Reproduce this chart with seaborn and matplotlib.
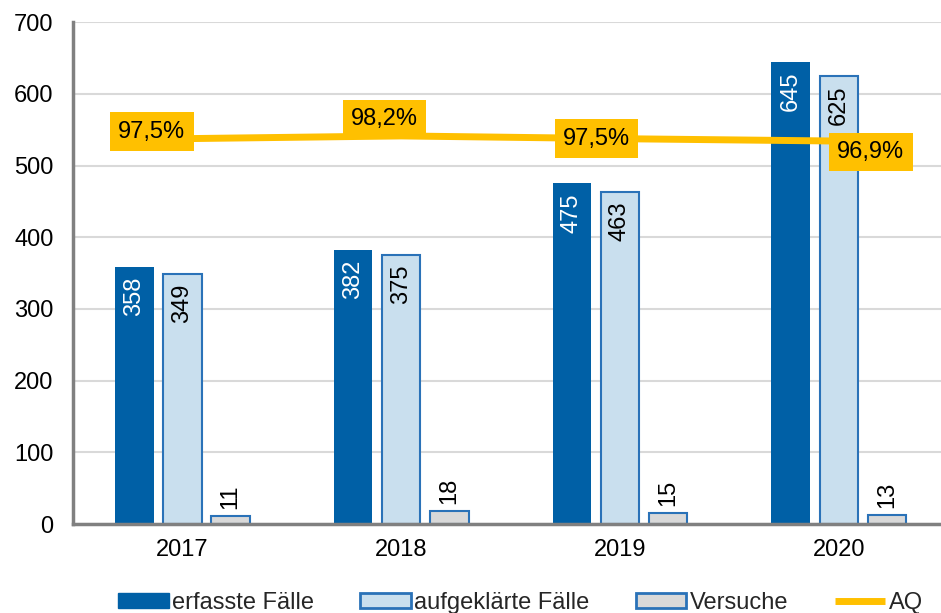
import matplotlib
matplotlib.use("Agg")
import matplotlib.pyplot as plt
import numpy as np
import pandas as pd
import seaborn as sns
from matplotlib.patches import Patch
from matplotlib.lines import Line2D

years = ["2017", "2018", "2019", "2020"]
erfasste = [358, 382, 475, 645]
aufgeklaerte = [349, 375, 463, 625]
versuche = [11, 18, 15, 13]
aq = [97.5, 98.2, 97.5, 96.9]
series_names = ["erfasste Fälle", "aufgeklärte Fälle", "Versuche"]

# label offsets for the AQ boxes (points)
aq_offsets = [(-22, 5), (-12, 12), (-17, 0), (23, -8)]

DARK = "#0060A6"
LIGHT = "#C9DFEE"
GREY = "#D9D9D9"
EDGE = "#2A72B8"
YELLOW = "#FFC000"
FS = 17

sns.set_theme(style="white")
plt.rcParams["font.family"] = ["Liberation Sans", "DejaVu Sans"]

df = pd.DataFrame({
    "Jahr": years * 3,
    "Serie": np.repeat(series_names, len(years)),
    "Wert": erfasste + aufgeklaerte + versuche,
})

fig = plt.figure(figsize=(9.41, 6.13), dpi=100)
ax = fig.add_axes([0.0776, 0.145, 0.93, 0.819])

sns.barplot(data=df, x="Jahr", y="Wert", hue="Serie", hue_order=series_names,
            palette=[DARK, LIGHT, GREY], width=0.66, gap=0.2, saturation=1,
            legend=False, ax=ax, zorder=2)

styles = [(DARK, DARK, 0), (LIGHT, EDGE, 1.5), (GREY, EDGE, 1.5)]
for cont, (fc, ec, lw) in zip(ax.containers, styles):
    for p in cont.patches:
        p.set_facecolor(fc)
        p.set_edgecolor(ec)
        p.set_linewidth(lw)

# value labels
for i, cont in enumerate(ax.containers):
    for p in cont.patches:
        x = p.get_x() + p.get_width() / 2
        h = p.get_height()
        if i < 2:
            ax.annotate(f"{h:.0f}", (x, h), xytext=(0, -7), textcoords="offset points",
                        rotation=90, ha="center", va="top", fontsize=FS,
                        color="white" if i == 0 else "black")
        else:
            ax.annotate(f"{h:.0f}", (x, h), xytext=(0, 5), textcoords="offset points",
                        rotation=90, ha="center", va="bottom", fontsize=FS, color="black")

ax.set_xlim(-0.5, 3.5)
ax.set_ylim(0, 700)
ax.set_yticks(range(0, 701, 100))
ax.set_xlabel("")
ax.set_ylabel("")
ax.yaxis.grid(True, color="#D9D9D9", lw=1.5, zorder=0)
ax.set_axisbelow(True)
ax.tick_params(axis="y", length=0, pad=14, labelsize=FS, labelcolor="black")
ax.tick_params(axis="x", length=0, pad=11, labelsize=FS, labelcolor="black")
for s in ["top", "right"]:
    ax.spines[s].set_visible(False)
for s in ["left", "bottom"]:
    ax.spines[s].set_color("#808080")
    ax.spines[s].set_linewidth(2.5)

# AQ line on hidden secondary axis
ax2 = ax.twinx()
sns.lineplot(x=np.arange(len(years)), y=aq, ax=ax2, color=YELLOW, lw=5, zorder=3)
ax2.set_ylim(0, 127)
ax2.set_axis_off()
for xi, v, off in zip(range(len(years)), aq, aq_offsets):
    ax2.annotate(f"{v:.1f}%".replace(".", ","), (xi, v), xytext=off, textcoords="offset points",
                 ha="center", va="center", fontsize=FS, color="black", zorder=4,
                 bbox=dict(boxstyle="square,pad=0.35", fc=YELLOW, ec="none"))

handles = [
    Patch(facecolor=DARK, edgecolor=DARK),
    Patch(facecolor=LIGHT, edgecolor=EDGE, lw=2),
    Patch(facecolor=GREY, edgecolor=EDGE, lw=2),
    Line2D([0], [0], color=YELLOW, lw=5, solid_capstyle="butt"),
]
fig.legend(handles, series_names + ["AQ"], loc="center", bbox_to_anchor=(0.553, 0.016),
           ncol=4, frameon=False, fontsize=FS, handlelength=2.15, handleheight=0.6,
           handletextpad=0.15, columnspacing=1.95, borderpad=0)

fig.savefig("out.png", dpi=100)
